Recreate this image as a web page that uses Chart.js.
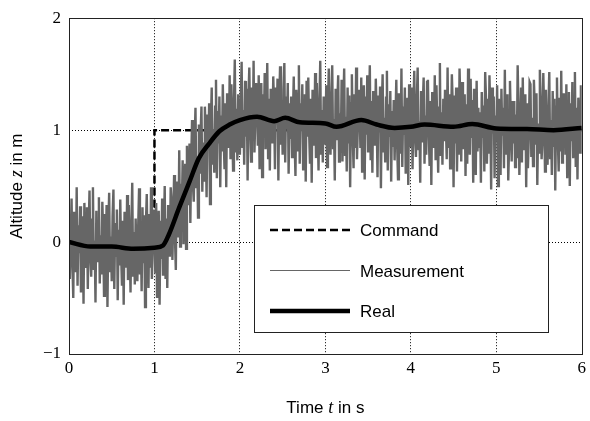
<!DOCTYPE html>
<html>
<head>
<meta charset="utf-8">
<script src="https://cdn.jsdelivr.net/npm/chart.js@4.4.0/dist/chart.umd.min.js"></script>
<style>
html, body { margin: 0; padding: 0; background: #fff; }
#wrap { width: 590px; height: 421px; }
</style>
</head>
<body>
<div id="wrap"><canvas id="altitude-graph"></canvas></div>
<script>
var xTicks = [0, 1, 2, 3, 4, 5, 6];
var yTicks = [-1, 0, 1, 2];

var commandT = [0, 1, 1, 6];
var commandZ = [0, 0, 1, 1];

var realT = [0, 0.25, 0.5, 0.75, 1.0, 1.1, 1.17, 1.29, 1.41, 1.52, 1.64, 1.76, 1.88, 2.0, 2.2, 2.4, 2.53, 2.7, 3.0, 3.13, 3.42, 3.6, 3.81, 4.0, 4.16, 4.5, 4.72, 5.0, 5.36, 5.67, 6.0];
var realZ = [0, -0.04, -0.04, -0.06, -0.05, -0.03, 0.07, 0.31, 0.54, 0.75, 0.88, 0.99, 1.05, 1.09, 1.12, 1.08, 1.11, 1.07, 1.06, 1.03, 1.09, 1.05, 1.02, 1.03, 1.05, 1.03, 1.055, 1.015, 1.01, 1.0, 1.02];

// measurement sampled every 0.01 s
var measStep = 0.01;
var measZ = [
  0.21,-0.33,0.04,0.39,-0.19,-0.50,0.27,0.09,-0.27,0.49,-0.39,0.15,-0.10,0.32,-0.45,0.00,0.23,-0.55,0.35,-0.15,
  -0.22,0.31,-0.42,0.12,0.46,-0.14,-0.31,0.20,0.49,-0.25,0.01,-0.54,0.28,-0.18,0.16,0.40,-0.37,0.06,-0.29,0.36,
  0.08,-0.48,0.25,-0.08,0.33,-0.58,0.13,0.44,-0.26,0.05,-0.35,0.23,0.47,-0.42,0.17,-0.12,0.29,-0.52,0.11,-0.21,
  0.38,-0.11,-0.39,0.19,-0.56,0.27,0.02,-0.23,0.42,-0.34,0.33,-0.06,-0.45,0.13,0.53,-0.30,0.09,-0.38,0.21,-0.17,
  -0.35,0.15,0.48,-0.29,0.05,-0.44,0.31,-0.19,0.24,-0.58,0.17,0.43,-0.12,-0.41,0.25,-0.23,0.49,-0.33,-0.02,0.29,
  0.11,-0.28,0.35,-0.49,0.05,0.28,-0.56,0.19,-0.15,0.39,-0.29,0.06,0.50,-0.33,0.21,-0.41,0.33,0.19,-0.13,0.49,
  0.36,-0.16,0.23,0.60,0.04,-0.25,0.54,0.38,0.04,0.82,-0.04,0.52,0.29,0.73,-0.02,0.45,0.70,-0.06,0.86,0.38,
  0.33,0.88,0.17,0.73,1.09,0.51,0.36,0.89,1.20,0.48,0.76,0.22,1.05,0.61,0.96,1.21,0.45,0.89,0.55,1.21,
  0.95,0.40,1.14,0.82,1.24,0.34,1.06,1.38,0.69,1.01,0.62,1.21,1.45,0.57,1.17,0.88,1.30,0.49,1.13,0.81,
  1.41,0.93,0.65,1.24,0.49,1.33,1.08,0.84,1.49,0.74,1.41,1.03,0.64,1.22,1.63,0.80,1.19,0.73,1.32,0.94,
  0.78,1.28,1.61,0.84,1.18,0.69,1.44,0.94,1.37,0.55,1.30,1.56,1.01,0.72,1.38,0.90,1.62,0.80,1.11,1.42,
  1.25,0.86,1.49,0.65,1.19,1.42,0.58,1.32,0.98,1.51,0.83,1.17,1.60,0.75,1.28,0.64,1.37,1.21,0.88,1.48,
  1.21,0.65,1.38,1.05,1.46,0.55,1.26,1.57,0.87,1.18,0.78,1.36,1.60,0.71,1.30,1.01,1.42,0.61,1.24,0.92,
  1.30,0.76,1.13,1.48,0.90,0.59,1.36,1.18,0.82,1.58,0.70,1.24,0.99,1.41,0.64,1.09,1.32,0.54,1.44,0.94,
  1.47,0.98,0.70,1.28,0.53,1.36,1.11,0.86,1.51,0.75,1.42,1.03,0.64,1.22,1.62,0.79,1.18,0.71,1.30,0.92,
  0.87,1.40,0.67,1.21,1.55,0.95,0.78,1.29,1.58,0.84,1.10,0.55,1.37,0.91,1.25,1.49,0.72,1.15,0.80,1.45,
  0.72,1.22,1.55,0.78,1.12,0.63,1.38,0.88,1.31,0.49,1.24,1.50,0.95,0.66,1.32,0.84,1.56,0.74,1.05,1.36,
  1.23,0.84,1.47,0.63,1.17,1.40,0.56,1.30,0.96,1.49,0.81,1.15,1.58,0.73,1.26,0.62,1.35,1.19,0.86,1.46,
  1.14,0.58,1.31,0.98,1.39,0.48,1.19,1.50,0.80,1.11,0.71,1.29,1.53,0.64,1.23,0.94,1.35,0.54,1.17,0.85,
  1.27,0.73,1.10,1.45,0.87,0.56,1.33,1.15,0.79,1.55,0.67,1.21,0.96,1.38,0.61,1.06,1.29,0.51,1.41,0.91,
  0.85,1.38,0.65,1.19,1.53,0.93,0.76,1.27,1.56,0.82,1.08,0.53,1.35,0.89,1.23,1.47,0.70,1.13,0.78,1.43,
  1.45,0.96,0.68,1.26,0.51,1.34,1.09,0.84,1.49,0.73,1.40,1.01,0.62,1.20,1.60,0.77,1.16,0.69,1.28,0.90,
  1.36,1.05,0.74,1.56,0.84,1.32,0.66,0.95,1.50,1.24,0.49,1.31,0.88,1.38,0.63,1.12,0.78,1.55,1.22,0.72,
  1.43,0.83,1.16,1.32,0.59,1.23,0.70,1.55,1.12,0.78,1.46,0.93,1.27,0.53,1.37,1.14,0.60,1.44,0.81,1.20,
  0.84,1.16,0.53,1.34,0.93,1.22,0.63,1.52,1.28,0.70,1.10,0.79,1.49,1.18,0.47,1.38,0.97,1.30,0.57,1.13,
  0.90,1.40,0.50,1.28,1.05,0.60,1.37,0.95,1.20,0.66,1.54,0.78,1.14,1.32,0.55,0.86,1.44,1.09,0.72,1.26,
  0.88,1.26,0.67,1.14,0.75,1.58,1.18,0.60,0.99,1.38,0.71,1.47,0.82,1.07,1.32,0.49,1.24,0.66,0.94,1.43,
  1.41,0.76,1.11,0.68,1.45,1.21,0.87,1.33,0.51,1.06,0.80,1.54,1.25,0.74,0.91,1.51,1.17,0.63,1.36,0.83,
  0.69,1.19,1.52,0.75,1.09,0.60,1.35,0.85,1.28,0.46,1.21,1.47,0.92,0.63,1.29,0.81,1.53,0.71,1.02,1.33,
  1.17,0.78,1.41,0.57,1.11,1.34,0.50,1.24,0.90,1.43,0.75,1.09,1.52,0.67,1.20,0.56,1.29,1.13,0.80,1.40,
  1.05
];

function toPoints(xs, ys) {
    return ys.map(function(y, i) { return { x: xs[i], y: y }; });
}

var measPoints = measZ.map(function(z, i) { return { x: +(i * measStep).toFixed(2), y: z }; });

var sansFont = '"Liberation Sans", Arial, sans-serif';
var serifFont = '"Liberation Serif", "DejaVu Serif", serif';

function drawMixed(ctx, parts, cx, cy) {
    var total = 0;
    parts.forEach(function(p) { ctx.font = p.font; p.w = ctx.measureText(p.text).width; total += p.w; });
    var x = cx - total / 2;
    ctx.textBaseline = 'middle';
    ctx.textAlign = 'left';
    parts.forEach(function(p) { ctx.font = p.font; ctx.fillText(p.text, x, cy); x += p.w; });
}

var framePlugin = {
    id: 'frame',
    afterDatasetsDraw: function(chart) {
        var ctx = chart.ctx, a = chart.chartArea;
        ctx.save();
        ctx.strokeStyle = '#222';
        ctx.lineWidth = 1;
        ctx.strokeRect(Math.round(a.left) + 0.5, Math.round(a.top) + 0.5, Math.round(a.right - a.left), Math.round(a.bottom - a.top));
        ctx.restore();
    },
    afterDraw: function(chart) {
        var ctx = chart.ctx, a = chart.chartArea;
        ctx.save();
        ctx.fillStyle = '#000';
        // axis titles
        drawMixed(ctx, [
            { text: 'Time ', font: '17px ' + sansFont },
            { text: 't', font: 'italic 18px ' + serifFont },
            { text: ' in s', font: '17px ' + sansFont }
        ], (a.left + a.right) / 2, 408);
        ctx.save();
        ctx.translate(17, (a.top + a.bottom) / 2);
        ctx.rotate(-Math.PI / 2);
        drawMixed(ctx, [
            { text: 'Altitude ', font: '17px ' + sansFont },
            { text: 'z', font: 'italic 18px ' + serifFont },
            { text: ' in m', font: '17px ' + sansFont }
        ], 0, 0);
        ctx.restore();

        // legend box
        var bx = 254.5, by = 205.5, bw = 294, bh = 127;
        ctx.fillStyle = '#fff';
        ctx.fillRect(bx, by, bw, bh);
        ctx.strokeStyle = '#222';
        ctx.lineWidth = 1;
        ctx.strokeRect(bx, by, bw, bh);
        var rows = [230, 270.5, 311];
        chart.data.datasets.slice().reverse().forEach(function(ds, i) {
            var y = rows[i];
            ctx.beginPath();
            ctx.setLineDash(ds.borderDash || []);
            ctx.strokeStyle = ds.borderColor;
            ctx.lineWidth = ds.legendWidth || ds.borderWidth;
            ctx.moveTo(270, y);
            ctx.lineTo(350, y);
            ctx.stroke();
            ctx.setLineDash([]);
            ctx.fillStyle = '#000';
            ctx.font = '17px ' + sansFont;
            ctx.textAlign = 'left';
            ctx.textBaseline = 'middle';
            ctx.fillText(ds.label, 360, Math.round(y) + 1);
        });
        ctx.restore();
    }
};

function gridColor(ends) {
    return function(c) {
        if (c.tick && ends.indexOf(c.tick.value) >= 0) return 'rgba(0,0,0,0)';
        return '#000';
    };
}

var ctx = document.getElementById('altitude-graph');

var myLineChart = new Chart(ctx, {
    type: 'line',
    data: {
        datasets: [{
            label: 'Real',
            data: toPoints(realT, realZ),
            borderColor: '#000',
            borderWidth: 4.5,
            cubicInterpolationMode: 'monotone',
            pointRadius: 0,
            fill: false,
            order: 1
        }, {
            label: 'Measurement',
            data: measPoints,
            borderColor: '#666666',
            borderWidth: 2.4,
            legendWidth: 1,
            borderJoinStyle: 'miter',
            pointRadius: 0,
            fill: false,
            order: 2
        }, {
            label: 'Command',
            data: toPoints(commandT, commandZ),
            borderColor: '#000',
            borderWidth: 2.5,
            borderDash: [8, 4],
            pointRadius: 0,
            fill: false,
            order: 3
        }]
    },
    options: {
        responsive: true,
        maintainAspectRatio: false,
        animation: false,
        events: [],
        layout: { padding: { top: 13, right: 5, left: 0, bottom: 0 } },
        plugins: { legend: { display: false }, tooltip: { enabled: false } },
        scales: {
            x: {
                type: 'linear',
                min: 0,
                max: 6,
                afterBuildTicks: function(s) { s.ticks = xTicks.map(function(v) { return { value: v }; }); },
                afterFit: function(s) { s.height = 67; },
                ticks: {
                    color: '#000',
                    padding: 4,
                    maxRotation: 0,
                    font: { family: serifFont, size: 17 }
                },
                grid: { color: gridColor([0, 6]), lineWidth: 1, drawTicks: false },
                border: { display: false, dash: [1, 2] }
            },
            y: {
                type: 'linear',
                min: -1,
                max: 2,
                afterBuildTicks: function(s) { s.ticks = yTicks.map(function(v) { return { value: v }; }); },
                afterFit: function(s) { s.width = 69; },
                ticks: {
                    color: '#000',
                    padding: 8,
                    font: { family: serifFont, size: 17 },
                    callback: function(v) { return String(v).replace('-', '\u2212'); }
                },
                grid: { color: gridColor([-1, 2]), lineWidth: 1, drawTicks: false },
                border: { display: false, dash: [1, 2] }
            }
        }
    },
    plugins: [framePlugin]
});
</script>
</body>
</html>
